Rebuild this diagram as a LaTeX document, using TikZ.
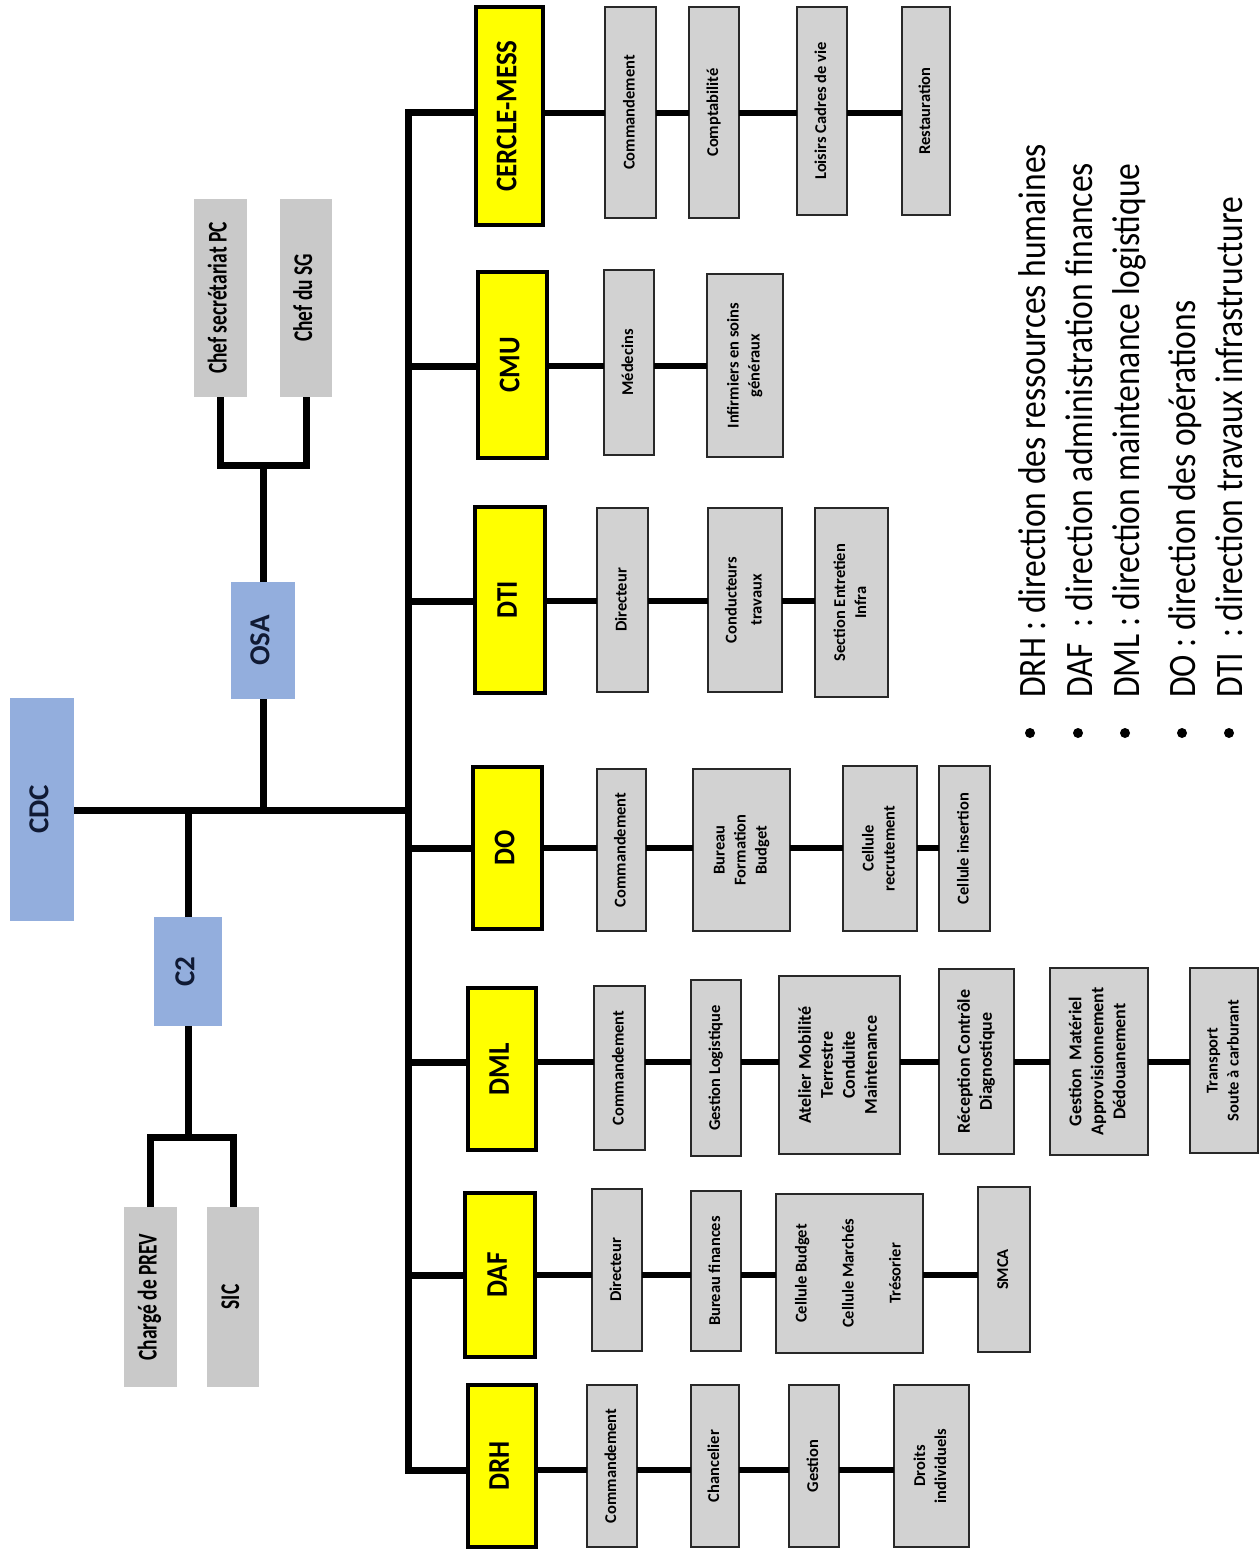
\documentclass[tikz,border=0pt]{standalone}
\usepackage{fontspec}
\setmainfont{Carlito}
\usepackage{graphicx}
\definecolor{hdryellow}{RGB}{255,255,0}
\definecolor{boxgray}{RGB}{210,210,210}
\definecolor{boxline}{RGB}{40,40,40}
\definecolor{leftgray}{RGB}{201,201,201}
\definecolor{topblue}{RGB}{147,174,221}
\definecolor{navyink}{RGB}{16,26,52}
\newcommand\rt[1]{\rotatebox{90}{\begin{tabular}{@{}c@{}}#1\end{tabular}}}
\newcommand\rtc[2]{\rotatebox{90}{\scalebox{#1}[1]{\begin{tabular}{@{}c@{}}#2\end{tabular}}}}
\newcommand\mkbox[7]{\node[#1, minimum width={(#4-#3)*1pt}, minimum height={(#6-#5)*1pt}] (#2) at ({(#3+#4)/2},{(#5+#6)/2}) {#7};}
\begin{document}
\begin{tikzpicture}[x=1pt,y=-1pt,
  boxbase/.style={inner sep=0pt, outer sep=0pt, rectangle},
  hbox/.style={boxbase, draw=black, line width=3.5pt, fill=hdryellow, font=\fontsize{30}{34}\selectfont\bfseries},
  gbox/.style={boxbase, draw=boxline, line width=2.5pt, fill=boxgray, font=\fontsize{16.5}{21}\selectfont\bfseries},
  gbig/.style={font=\fontsize{18}{22}\selectfont\bfseries},
  lbox/.style={boxbase, fill=leftgray, font=\fontsize{27}{30}\selectfont\bfseries},
  bbox/.style={boxbase, fill=topblue, text=navyink, font=\fontsize{29}{32}\selectfont\bfseries},
  mainline/.style={line width=7pt, line join=miter},
  rowline/.style={line width=6pt},
  legtext/.style={rotate=90, xscale=0.865, anchor=base west, inner sep=0pt, font=\fontsize{38.8}{42}\selectfont},
  bullet/.style={circle, fill=black, minimum size=10pt, inner sep=0pt}
]
\fill[white] (0,0) rectangle (1259,1549);
\useasboundingbox (0,0) rectangle (1259,1549);

% ---- left part
\mkbox{lbox}{pc}{194}{247}{199}{397}{\rtc{0.72}{Chef secrétariat PC}}
\mkbox{lbox}{sg}{280}{332}{199}{397}{\rtc{0.72}{Chef du SG}}
\mkbox{bbox}{osa}{231}{295}{582}{699}{\rt{OSA}}
\mkbox{bbox}{cdc}{10}{74}{698}{921}{\rt{CDC}}
\mkbox{bbox}{c2}{154}{222}{917}{1026}{\rt{C2}}
\mkbox{lbox}{prev}{124}{177}{1207}{1387}{\rtc{0.72}{Chargé de PREV}}
\mkbox{lbox}{sic}{207}{259}{1207}{1387}{\rtc{0.72}{SIC}}

% ---- headers
\mkbox{hbox}{cm}{476}{543}{7}{225}{\rtc{0.9}{CERCLE-MESS}}
\mkbox{hbox}{cmu}{478}{547}{272}{458}{\rtc{0.9}{CMU}}
\mkbox{hbox}{dti}{475}{545}{507}{693}{\rtc{0.9}{DTI}}
\mkbox{hbox}{do}{473}{542}{767}{929}{\rtc{0.9}{DO}}
\mkbox{hbox}{dml}{468}{536}{988}{1150}{\rtc{0.9}{DML}}
\mkbox{hbox}{daf}{465}{535}{1193}{1357}{\rtc{0.9}{DAF}}
\mkbox{hbox}{drh}{468}{536}{1385}{1547}{\rtc{0.9}{DRH}}

% ---- row 1
\mkbox{gbox}{c11}{605}{656}{7}{218}{\rt{Commandement}}
\mkbox{gbox}{c12}{689}{739}{7}{218}{\rt{Comptabilité}}
\mkbox{gbox}{c13}{797}{847}{7}{215}{\rt{Loisirs Cadres de vie}}
\mkbox{gbox}{c14}{902}{950}{7}{215}{\rt{Restauration}}
% ---- row 2
\mkbox{gbox}{c21}{604}{654}{270}{455}{\rt{Médecins}}
\mkbox{gbox}{c22}{707}{783}{274}{457}{\rt{Infirmiers en soins\\généraux}}
% ---- row 3
\mkbox{gbox}{c31}{597}{648}{508}{692}{\rt{Directeur}}
\mkbox{gbox}{c32}{708}{782}{508}{692}{\rt{Conducteurs\\[4pt]travaux}}
\mkbox{gbox}{c33}{815}{888}{508}{697}{\rt{Section Entretien\\Infra}}
% ---- row 4
\mkbox{gbox}{c41}{597}{646}{769}{931}{\rt{Commandement}}
\mkbox{gbox}{c42}{693}{790}{769}{931}{\rt{Bureau\\Formation\\Budget}}
\mkbox{gbox}{c43}{843}{917}{766}{931}{\rt{Cellule\\recrutement}}
\mkbox{gbox}{c44}{939}{990}{766}{931}{\rt{Cellule insertion}}
% ---- row 5
\mkbox{gbox}{c51}{594}{645}{986}{1150}{\rt{Commandement}}
\mkbox{gbox}{c52}{691}{741}{980}{1156}{\rt{Gestion Logistique}}
\mkbox{gbox,gbig}{c53}{779}{900}{976}{1154}{\rt{Atelier Mobilité\\Terrestre\\Conduite\\Maintenance}}
\mkbox{gbox,gbig}{c54}{939}{1014}{969}{1154}{\rt{Réception Contrôle\\Diagnostique}}
\mkbox{gbox,gbig}{c55}{1050}{1148}{968}{1155}{\rt{Gestion\ \ Matériel\\Approvisionnement\\Dédouanement}}
\mkbox{gbox}{c56}{1190}{1258}{968}{1153}{\rt{Transport\\Soute à carburant}}
% ---- row 6
\mkbox{gbox}{c61}{592}{642}{1189}{1351}{\rt{Directeur}}
\mkbox{gbox}{c62}{691}{741}{1191}{1351}{\rt{Bureau finances}}
\mkbox{gbox}{c63}{776}{923}{1194}{1353}{\rt{Cellule Budget\\[26pt]Cellule Marchés\\[26pt]Trésorier}}
\mkbox{gbox}{c64}{978}{1030}{1187}{1352}{\rt{SMCA}}
% ---- row 7
\mkbox{gbox}{c71}{587}{637}{1385}{1547}{\rt{Commandement}}
\mkbox{gbox}{c72}{691}{739}{1385}{1547}{\rt{Chancelier}}
\mkbox{gbox}{c73}{789}{839}{1385}{1547}{\rt{Gestion}}
\mkbox{gbox}{c74}{894}{969}{1385}{1547}{\rt{Droits\\individuels}}

% ---- coordinates on the trunk
\coordinate (r1) at (408,113);
\coordinate (r2) at (408,366);
\coordinate (r3) at (408,601);
\coordinate (r4) at (408,848);
\coordinate (r5) at (408,1062);
\coordinate (r6) at (408,1275);
\coordinate (r7) at (408,1470);
\coordinate (hub) at (408,810);
\coordinate (jt) at (263,465);
\coordinate (jb) at (188,1137);

% ---- left connectors
\draw[mainline] (pc.south) |- (jt) -| (sg.south);
\draw[mainline] (osa.north) -- (jt);
\draw[mainline] (osa.south) -- (osa.south |- hub);
\draw[mainline] (cdc.east |- hub) -- (hub);
\draw[mainline] (c2.north) -- (c2.north |- hub);
\draw[mainline] (c2.south) -- (jb);
\draw[mainline] (prev.north) |- (jb) -| (sic.north);

% ---- trunk and stubs
\draw[mainline] (r1 -| cm.west) -- (r1) -- (r7) -- (r7 -| drh.west);
\foreach \h/\r in {cmu/r2, dti/r3, do/r4, dml/r5, daf/r6}
  \draw[mainline] (\r) -- (\r -| \h.west);

% ---- row connectors
\foreach \a/\b/\r in {cm/c11/r1, c11/c12/r1, c12/c13/r1, c13/c14/r1,
  cmu/c21/r2, c21/c22/r2,
  dti/c31/r3, c31/c32/r3, c32/c33/r3,
  do/c41/r4, c41/c42/r4, c42/c43/r4, c43/c44/r4,
  dml/c51/r5, c51/c52/r5, c52/c53/r5, c53/c54/r5, c54/c55/r5, c55/c56/r5,
  daf/c61/r6, c61/c62/r6, c62/c63/r6, c63/c64/r6,
  drh/c71/r7, c71/c72/r7, c72/c73/r7, c73/c74/r7}
  \draw[rowline] (\r -| \a.east) -- (\r -| \b.west);

% ---- legend
\node[bullet] (b1) at (1030,733) {};
\node[bullet] (b2) at (1078,733) {};
\node[bullet] (b3) at (1125,733) {};
\node[bullet] (b4) at (1182,733) {};
\node[bullet] (b5) at (1229,733) {};
\node[legtext] (l1) at (1045,698) {DRH : direction des ressources humaines};
\node[legtext] (l2) at (1092,698) {DAF\ \ : direction administration finances};
\node[legtext] (l3) at (1139,698) {DML : direction maintenance logistique};
\node[legtext] (l4) at (1195,698) {DO : direction des opérations};
\node[legtext] (l5) at (1242,698) {DTI\ \ : direction travaux infrastructure};
\end{tikzpicture}
\end{document}
